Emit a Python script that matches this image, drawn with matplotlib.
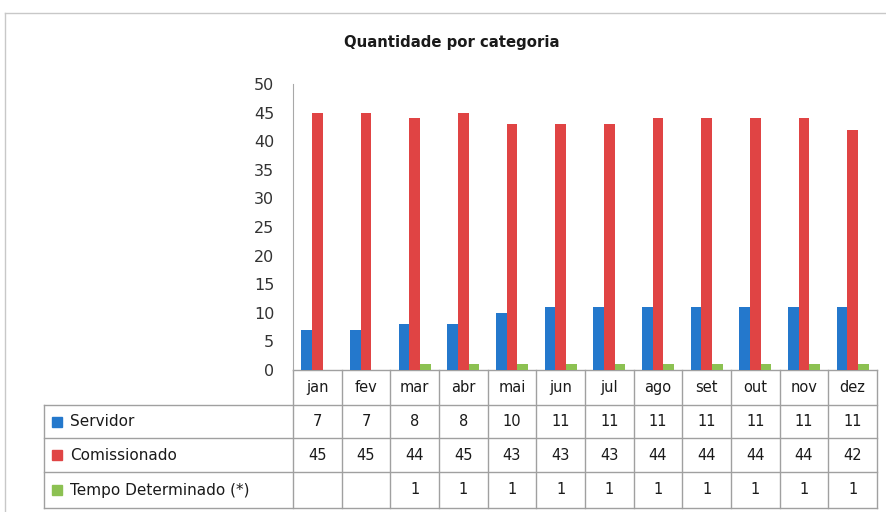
import numpy as np
import matplotlib.pyplot as plt

meses = ['jan', 'fev', 'mar', 'abr', 'mai', 'jun', 'jul', 'ago', 'set', 'out', 'nov', 'dez']
servidor = [7, 7, 8, 8, 10, 11, 11, 11, 11, 11, 11, 11]
comissionado = [45, 45, 44, 45, 43, 43, 43, 44, 44, 44, 44, 42]
tempo_det = [np.nan, np.nan, 1, 1, 1, 1, 1, 1, 1, 1, 1, 1]
series_nomes = ['Servidor', 'Comissionado', 'Tempo Determinado (*)']
cores = ['#2478CC', '#E04444', '#8CC152']

W, H = 886, 512
fig = plt.figure(figsize=(W / 100, H / 100), dpi=100)

# area do grafico (em pixels)
x0, x1 = 293, 877
y_top, y_zero = 84, 370
ax = fig.add_axes([x0 / W, (H - y_zero) / H, (x1 - x0) / W, (y_zero - y_top) / H])

x = np.arange(len(meses)) + 0.5
bw = 0.22
ax.bar(x - bw, servidor, bw, color=cores[0])
ax.bar(x, comissionado, bw, color=cores[1])
ax.bar(x + bw, tempo_det, bw, color=cores[2])

ax.set_xlim(0, len(meses))
ax.set_ylim(0, 50)
ax.set_yticks(np.arange(0, 51, 5))
ax.set_xticks([])
ax.tick_params(axis='y', length=0, pad=13.5, labelsize=11.5, labelcolor='#333333')
for s in ['top', 'right', 'bottom']:
    ax.spines[s].set_visible(False)
ax.spines['left'].set_color('#A8A8A8')
ax.patch.set_alpha(0)

# tabela de dados, desenhada em coordenadas de pixel
axt = fig.add_axes([0, 0, 1, 1], zorder=-1)
axt.set_xlim(0, W)
axt.set_ylim(H, 0)
axt.axis('off')

gc = '#A0A0A0'
lab_x0 = 44
row_y = [370, 405, 438, 472, 508]
col_x = np.linspace(x0, x1, len(meses) + 1)

# moldura externa
axt.plot([5, W], [13, 13], color='#C8C8C8', lw=1)
axt.plot([5, 5], [13, H], color='#C8C8C8', lw=1)

# linhas horizontais
axt.plot([x0, x1], [row_y[0], row_y[0]], color=gc, lw=1)
for yy in row_y[1:]:
    axt.plot([lab_x0, x1], [yy, yy], color=gc, lw=1)
# linhas verticais
for xx in col_x:
    axt.plot([xx, xx], [row_y[0], row_y[-1]], color=gc, lw=1)
axt.plot([lab_x0, lab_x0], [row_y[1], row_y[-1]], color=gc, lw=1)

txt = '#1A1A1A'
cx = (col_x[:-1] + col_x[1:]) / 2
for i, m in enumerate(meses):
    axt.text(cx[i], (row_y[0] + row_y[1]) / 2, m, ha='center', va='center',
             fontsize=10.5, color=txt)

valores = [servidor, comissionado, tempo_det]
for r, vals in enumerate(valores):
    yc = (row_y[r + 1] + row_y[r + 2]) / 2
    axt.add_patch(plt.Rectangle((52, yc - 5), 10, 10, color=cores[r]))
    axt.text(70, yc, series_nomes[r], ha='left', va='center', fontsize=11, color=txt)
    for i, v in enumerate(vals):
        if not np.isnan(v):
            axt.text(cx[i], yc, str(int(v)), ha='center', va='center',
                     fontsize=10.5, color=txt)

fig.text(452 / W, 1 - 43 / H, 'Quantidade por categoria', ha='center', va='center',
         fontsize=10.7, fontweight='bold', color='#1A1A1A')

fig.savefig('out.png', dpi=100)
